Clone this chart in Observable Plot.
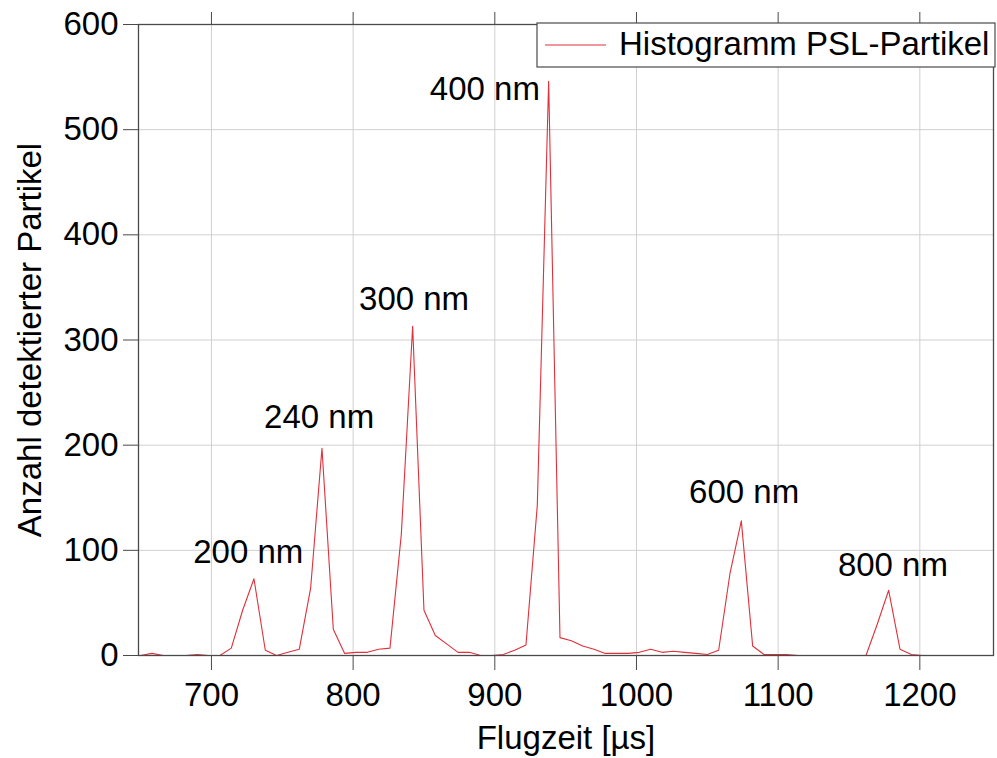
<!DOCTYPE html>
<html>
<head>
<meta charset="utf-8">
<script src="https://cdn.jsdelivr.net/npm/d3@7"></script>
<script src="https://cdn.jsdelivr.net/npm/@observablehq/plot@0.6"></script>
<style>
  html, body { margin: 0; padding: 0; background: #fff; }
  #chart svg { display: block; }
</style>
</head>
<body>
<div id="chart"></div>
<script>
const times = [650,658,666,674,682,690,698,706,714,722,730,738,746,754,762,770,778,786,794,802,
  810,818,826,834,842,850,858,866,874,882,890,898,906,914,922,930,938,946,954,962,
  970,978,986,994,1002,1010,1018,1026,1034,1042,1050,1058,1066,1074,1082,1090,1098,1106,1114,1122,
  1130,1138,1146,1154,1162,1170,1178,1186,1194,1202,1210,1218,1226,1234,1242,1250];
const counts = [0,2,0,0,0,1,0,0,7,43,73,5,0,3,6,64,197,25,2,3,
  3,6,7,115,313,43,19,11,3,3,0,0,1,5,10,143,546,17,14,9,
  6,2,2,2,3,6,3,4,3,2,1,5,78,128,9,1,1,1,0,0,
  0,0,0,0,0,30,62,6,1,0,0,0,0,0,0,0];
const peakLabels = ["200 nm","240 nm","300 nm","400 nm","600 nm","800 nm"];
const peakLabelX = [726, 776, 843, 893, 1076, 1181];
const peakLabelY = [98, 226, 339, 538, 155, 86];
const xTicks = [700, 800, 900, 1000, 1100, 1200];
const yTicks = [0, 100, 200, 300, 400, 500, 600];
const xTitle = "Flugzeit [µs]";
const yTitle = "Anzahl detektierter Partikel";
const seriesName = "Histogramm PSL-Partikel";

const data = times.map((t, i) => ({t, n: counts[i]}));
const labels = peakLabels.map((s, i) => ({s, x: peakLabelX[i], y: peakLabelY[i]}));

const W = 997, H = 758;
const mL = 138, mR = 4, mT = 24, mB = 103;
const FONT = "'Liberation Sans', Arial, Helvetica, sans-serif";
const FS = 33;
const RED = "#e0303a";
const AX = "#4a4a4a";

const plot = Plot.plot({
  width: W, height: H,
  marginLeft: mL, marginRight: mR, marginTop: mT, marginBottom: mB,
  style: {fontFamily: FONT, fontSize: FS + "px", background: "#fff", color: "#000", overflow: "visible"},
  x: {domain: [648.5, 1252]},
  y: {domain: [0, 600]},
  marks: [
    Plot.gridX(xTicks, {stroke: "#d0d0d0", strokeOpacity: 1}),
    Plot.gridY(yTicks, {stroke: "#d0d0d0", strokeOpacity: 1}),
    Plot.axisX({ticks: xTicks, tickSize: 15, tickPadding: 12, tickFormat: d => String(d), stroke: AX, fill: "#000", label: null, fontSize: FS}),
    Plot.axisX({anchor: "top", ticks: xTicks, tickSize: 13, tickFormat: () => "", stroke: AX, label: null}),
    Plot.axisY({ticks: yTicks, tickSize: 15, tickPadding: 5, tickFormat: d => String(d), stroke: AX, fill: "#000", label: null, fontSize: FS}),
    Plot.line(data, {x: "t", y: "n", stroke: RED, strokeWidth: 1.1}),
    Plot.text(labels, {x: "x", y: "y", text: "s", fill: "#000", fontSize: FS}),
    Plot.frame({stroke: AX, strokeWidth: 1.3})
  ]
});

document.getElementById("chart").appendChild(plot);

const svg = d3.select(plot);
// Axis titles
svg.append("text")
  .attr("x", 566).attr("y", 740)
  .attr("text-anchor", "middle").attr("dominant-baseline", "middle")
  .attr("font-family", FONT).attr("font-size", FS).attr("fill", "#000")
  .text(xTitle);
svg.append("text")
  .attr("transform", "translate(32,340) rotate(-90)")
  .attr("text-anchor", "middle").attr("dominant-baseline", "middle")
  .attr("font-family", FONT).attr("font-size", FS).attr("fill", "#000")
  .text(yTitle);
// Legend
const lg = svg.append("g");
lg.append("rect").attr("x", 537).attr("y", 23).attr("width", 458).attr("height", 44)
  .attr("fill", "#fff").attr("stroke", AX).attr("stroke-width", 1.2);
lg.append("line").attr("x1", 545).attr("x2", 606).attr("y1", 45).attr("y2", 45)
  .attr("stroke", RED).attr("stroke-width", 1.1);
lg.append("text").attr("x", 619).attr("y", 46)
  .attr("text-anchor", "start").attr("dominant-baseline", "middle")
  .attr("font-family", FONT).attr("font-size", FS).attr("fill", "#000")
  .text(seriesName);
</script>
</body>
</html>
